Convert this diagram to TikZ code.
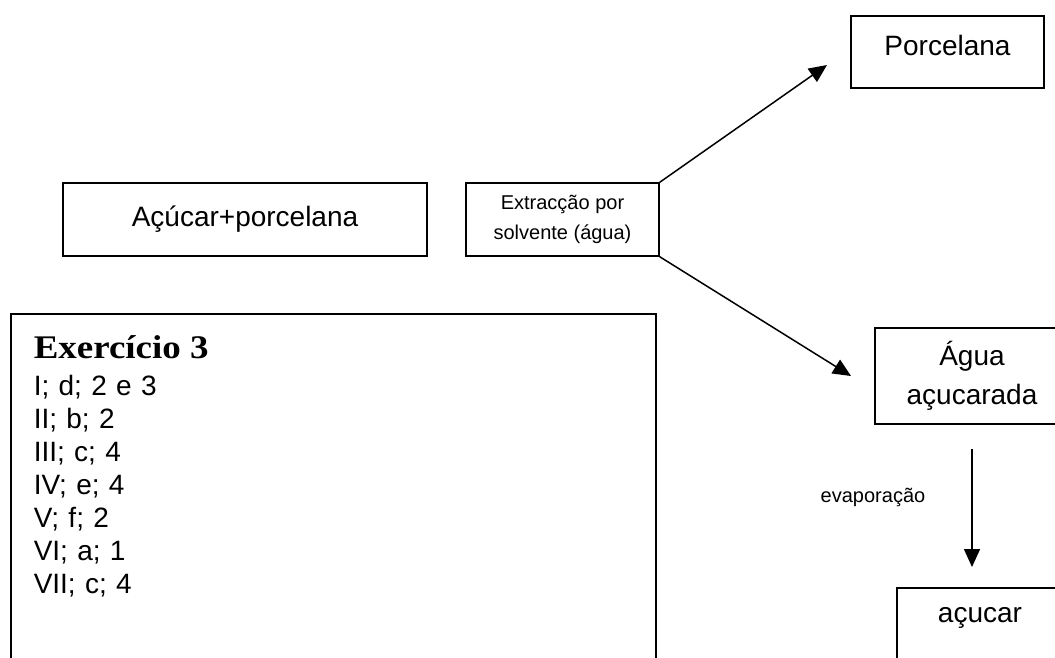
\documentclass[tikz,border=0pt]{standalone}
\usepackage{fontspec}
\newfontfamily\arialfont{Liberation Sans}
\newfontfamily\titlefont{Liberation Serif}[FakeStretch=1.12]
\usetikzlibrary{arrows.meta}

\tikzset{
  caixa/.style={draw, line width=1.5pt, inner sep=0pt, align=center,
    font=\arialfont\fontsize{28}{39}\selectfont},
  seta/.style={line width=1.5pt, -{Triangle[length=18pt,width=16pt]}},
}

\begin{document}
\begin{tikzpicture}[x=1pt, y=-1pt]
    \useasboundingbox (0,0) rectangle (1055,657);
    \clip (0,0) rectangle (1055,657);

    % draw boxes
    \node[caixa, minimum width=364pt, minimum height=73pt] (mistura) at (245,219.5) {Açúcar+porcelana};
    \node[caixa, minimum width=193pt, minimum height=73pt,
      font=\arialfont\fontsize{20}{30}\selectfont] (extraccao) at (562.5,219.5) {Extracção por\\solvente (água)};
    \node[caixa, minimum width=193pt, text height=39pt, text depth=33pt] (porcelana) at (947.5,52) {Porcelana};
    \node[caixa, minimum width=194pt, minimum height=96pt] (agua) at (972,376) {Água\\açucarada};
    \node[caixa, anchor=north, minimum width=166pt, text height=35pt, text depth=70pt] (acucar) at (980,587) {açucar};

    % draw exercise box
    \node[caixa, anchor=north west, align=left, inner xsep=23pt, inner ysep=0pt,
      text width=599pt, text height=45pt, text depth=330pt,
      font=\arialfont\fontsize{28}{33}\selectfont] (exercicio) at (10,313)
      {{\titlefont\bfseries\fontsize{33}{33}\selectfont Exercício 3}\\[4pt]
       I; d; 2 e 3\\ II; b; 2\\ III; c; 4\\ IV; e; 4\\ V; f; 2\\ VI; a; 1\\ VII; c; 4};

    % draw arrows
    \coordinate (pontaA) at (827,65);
    \coordinate (pontaB) at (851,376);
    \draw[seta] (extraccao.north east) -- (pontaA);
    \draw[seta] (extraccao.south east) -- (pontaB);
    \draw[seta, shorten <=24pt, shorten >=20pt] (agua.south) -- (agua.south |- acucar.north);
    \node[font=\arialfont\fontsize{20}{24}\selectfont] (evaporacao) at (873,497) {evaporação};
\end{tikzpicture}
\end{document}
